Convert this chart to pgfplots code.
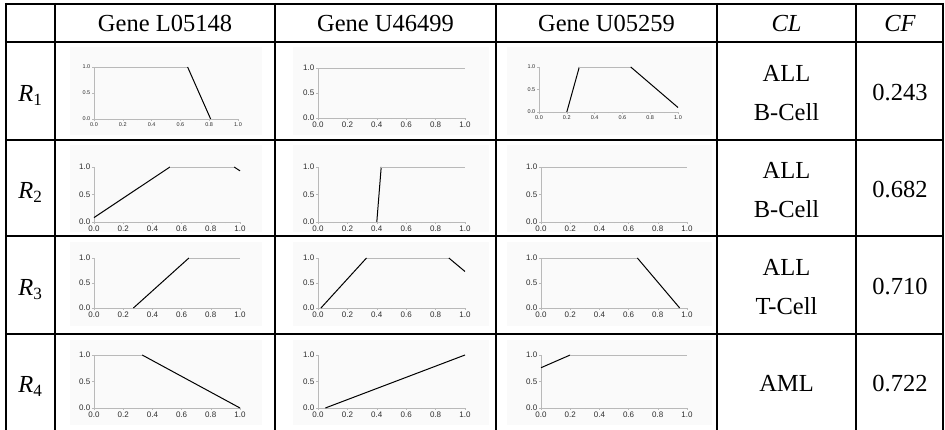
\documentclass[border=0pt]{standalone}
\usepackage{fontspec}
\setmainfont{Liberation Serif}
\setsansfont{Liberation Sans}
\usepackage{pgfplots}
\pgfplotsset{compat=1.18}
\pgfplotsset{
 mini/.style={scale only axis, anchor=south west, axis lines=left,
   axis line style={gray!55,line width=0.6pt,-},
   xmin=0,xmax=1,ymin=0,ymax=1, enlargelimits=false, clip=false,
   xtick={0,0.2,0.4,0.6,0.8,1}, ytick={0,0.5,1}, minor x tick num=1,
   tick align=outside, major tick length=2pt, minor tick length=1.2pt,
   tick style={gray!55, line width=0.4pt},
   /pgf/number format/fixed, /pgf/number format/fixed zerofill,
   /pgf/number format/precision=1, /pgf/number format/assume math mode=true,
   tick label style={font=\fontsize{8}{8}\sffamily, text=gray!35!black, inner sep=1.5pt}},
 smallticks/.style={tick label style={font=\fontsize{5.5}{6}\sffamily}},
 flat/.style={gray!55, line width=0.8pt, no marks},
 slope/.style={black, line width=1pt, no marks},
}
\tikzset{txt/.style={font=\fontsize{24.5}{28}\selectfont, inner sep=0pt, anchor=base}}
\begin{document}
\begin{tikzpicture}[x=1pt,y=1pt]
\useasboundingbox (0,0) rectangle (945,430);
% faint panels behind the small plots
\foreach \xa/\xb in {70/262, 293/489, 507/712} {
  \foreach \ya/\yb in {295/383, 198/285, 104/188, 5/90} {
    \fill[gray!4] (\xa,\ya) rectangle (\xb,\yb);
  }
}
% anchor points of the small axes
\coordinate (p11) at (94,311);
\coordinate (p12) at (318,312);
\coordinate (p13) at (539,318);
\coordinate (p21) at (94,208);
\coordinate (p22) at (318,208);
\coordinate (p23) at (541,208);
\coordinate (p31) at (94,122);
\coordinate (p32) at (318,122);
\coordinate (p33) at (541,122);
\coordinate (p41) at (94,22);
\coordinate (p42) at (318,22);
\coordinate (p43) at (541,22);
% table lines
\foreach \yy in {426,388,290,194,96} \draw[line width=2.2pt] (4.9,\yy) -- (944.1,\yy);
\foreach \xx in {6,55,275,496,717,856,943} \draw[line width=2.2pt] (\xx,427.1) -- (\xx,0);
% header
\node[txt] at (165,398.5) {Gene L05148};
\node[txt] at (385.5,398.5) {Gene U46499};
\node[txt] at (606.5,398.5) {Gene U05259};
\node[txt] at (786.5,398.5) {\textit{CL}};
\node[txt] at (900,398.5) {\textit{CF}};
% row labels
\node[txt] at (30.5,328) {\textit{R}\textsubscript{1}};
\node[txt] at (30.5,231) {\textit{R}\textsubscript{2}};
\node[txt] at (30.5,134) {\textit{R}\textsubscript{3}};
\node[txt] at (30.5,37) {\textit{R}\textsubscript{4}};
% CL
\node[txt] at (786.5,348) {ALL};
\node[txt] at (786.5,309) {B-Cell};
\node[txt] at (786.5,251) {ALL};
\node[txt] at (786.5,212) {B-Cell};
\node[txt] at (786.5,154) {ALL};
\node[txt] at (786.5,115) {T-Cell};
\node[txt] at (786.5,38) {AML};
% CF
\node[txt] at (900,329) {0.243};
\node[txt] at (900,232) {0.682};
\node[txt] at (900,135) {0.710};
\node[txt] at (900,38) {0.722};
% ---------- row 1
\begin{axis}[mini, smallticks, at={(p11)}, width=144pt, height=52pt]
\addplot[flat] coordinates {(0,1) (0.65,1)};
\addplot[slope] coordinates {(0.65,1) (0.81,0)};
\end{axis}
\begin{axis}[mini, at={(p12)}, width=147pt, height=50pt]
\addplot[flat] coordinates {(0,1) (1,1)};
\end{axis}
\begin{axis}[mini, smallticks, at={(p13)}, width=139pt, height=45pt]
\addplot[flat] coordinates {(0,0) (0.2,0)};
\addplot[slope] coordinates {(0.2,0) (0.29,1)};
\addplot[flat] coordinates {(0.29,1) (0.66,1)};
\addplot[slope] coordinates {(0.66,1) (1,0.1)};
\end{axis}
% ---------- row 2
\begin{axis}[mini, at={(p21)}, width=146pt, height=55pt]
\addplot[slope] coordinates {(0,0.08) (0.52,1)};
\addplot[flat] coordinates {(0.52,1) (0.96,1)};
\addplot[slope] coordinates {(0.96,1) (1,0.93)};
\end{axis}
\begin{axis}[mini, at={(p22)}, width=147pt, height=55pt]
\addplot[slope] coordinates {(0.4,0) (0.43,1)};
\addplot[flat] coordinates {(0.43,1) (1,1)};
\end{axis}
\begin{axis}[mini, at={(p23)}, width=146pt, height=55pt]
\addplot[flat] coordinates {(0,1) (1,1)};
\end{axis}
% ---------- row 3
\begin{axis}[mini, at={(p31)}, width=146pt, height=50pt]
\addplot[slope] coordinates {(0.27,0) (0.65,1)};
\addplot[flat] coordinates {(0.65,1) (1,1)};
\end{axis}
\begin{axis}[mini, at={(p32)}, width=147pt, height=50pt]
\addplot[slope] coordinates {(0.02,0) (0.33,1)};
\addplot[flat] coordinates {(0.33,1) (0.89,1)};
\addplot[slope] coordinates {(0.89,1) (1,0.73)};
\end{axis}
\begin{axis}[mini, at={(p33)}, width=146pt, height=50pt]
\addplot[flat] coordinates {(0,1) (0.66,1)};
\addplot[slope] coordinates {(0.66,1) (0.95,0)};
\end{axis}
% ---------- row 4
\begin{axis}[mini, at={(p41)}, width=146pt, height=53pt]
\addplot[flat] coordinates {(0,1) (0.33,1)};
\addplot[slope] coordinates {(0.33,1) (1,0)};
\end{axis}
\begin{axis}[mini, at={(p42)}, width=147pt, height=53pt]
\addplot[slope] coordinates {(0.05,0) (1,1)};
\end{axis}
\begin{axis}[mini, at={(p43)}, width=146pt, height=53pt]
\addplot[slope] coordinates {(0,0.76) (0.2,1)};
\addplot[flat] coordinates {(0.2,1) (1,1)};
\end{axis}
\end{tikzpicture}
\end{document}
